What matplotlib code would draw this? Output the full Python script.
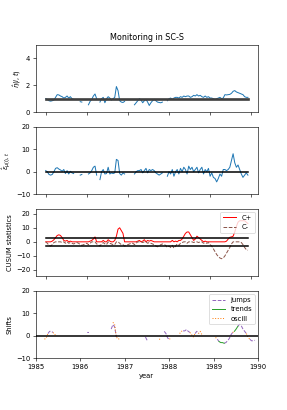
import numpy as np
import matplotlib
matplotlib.use("Agg")
import matplotlib.pyplot as plt

nan = np.nan

# weekly index (every second week)
woche = np.arange(0, 248, 2)
jahr = 1985.2 + woche / 52

eta = [
    1.0, 0.95, 0.85, 0.82, 0.85, 0.9, 1.1, 1.3, 1.28, 1.2,
    1.15, 1.05, 1.1, 1.2, 1.05, 1.15, 1.0, 0.95, nan, nan,
    nan, 0.78, 0.75, nan, nan, nan, 0.55, 0.8, 0.95, 1.2,
    1.35, 1.0, nan, 0.75, 1.0, 1.1, 0.7, 1.0, 1.15, 1.05,
    0.9, 1.0, 1.1, 1.9, 1.6, 0.85, 0.75, 0.72, 0.8, nan,
    nan, nan, nan, nan, 0.55, 0.7, 0.85, 1.0, 0.9, 0.7,
    0.85, 0.95, 0.75, 0.5, 0.7, 0.85, 0.95, 0.85, 0.75, 0.72,
    0.7, 0.75, nan, nan, 0.85, 1.0, 1.05, 0.95, 1.05, 1.1,
    1.1, 1.05, 1.15, 1.1, 1.2, 1.15, 1.2, 1.2, 1.1, 1.15,
    1.25, 1.2, 1.3, 1.2, 1.25, 1.15, 1.1, 1.2, 1.1, 1.15,
    1.05, 1.05, 1.0, 0.95, 1.0, 1.05, 1.1, 1.0, 1.05, 1.3,
    1.28, 1.3, 1.32, 1.4, 1.55, 1.6, 1.5, 1.45, 1.4, 1.35,
    1.3, 1.15, 1.1, 1.1,
]

eps = [
    0.5, 0, -1.2, -1.5, -1.2, 0, 1.5, 1.8, 1.2, 0.8,
    0.2, 1.0, -0.8, 0.5, -1.0, 0.2, -0.5, -0.8, nan, nan,
    nan, -1.5, -1.2, nan, nan, nan, -1.0, -0.5, 0.5, 2.0,
    2.5, -1.5, nan, -3.5, 0, 1.0, -1.0, -0.8, 2.0, -1.0,
    -0.5, -0.8, -0.5, 5.5, 5.0, -0.8, -1.5, -0.5, -1.0, nan,
    nan, nan, nan, nan, -1.0, 0, 0.5, 0.5, 1.0, -0.5,
    0.5, 1.5, -0.5, 1.0, 0.5, 1.0, 0.5, -0.5, -1.0, -1.5,
    -1.0, -0.5, nan, nan, -2.0, 0, -1.0, 1.0, -2.0, 0,
    1.0, -1.0, 1.5, 0, 2.0, 1.0, -1.0, 2.5, 1.0, 2.0,
    0, 1.0, 2.0, -0.5, 1.0, 2.0, -1.0, 1.0, 0, 1.5,
    -2.0, -0.5, -2.5, -3.0, -4.5, -3.0, -1.0, -2.0, 1.0, 1.0,
    0.5, 1.0, 2.0, 5.0, 8.0, 4.0, 2.0, 3.0, 1.0, -1.0,
    -2.5, -1.5, -0.5, -1.5,
]

c_plus = [
    0, 0, 0, 0, 0.5, 1.5, 3, 4.5, 5, 4.5,
    3, 1, 0.5, 1, 0, 0.5, 0, 0, 0, 0,
    0, 0, 0, 0, 0, 0, 0, 0.5, 1, 2,
    3.5, 0, 0, 0, 0, 1, 0, 0, 1.5, 0.5,
    0, 0, 1, 4, 9, 10, 8, 6, 0, 0,
    0, 0, 0, 0, 0, 0, 0.5, 1, 0, 0.5,
    1.5, 0, 1, 0.5, 1, 0.5, 0, 0, 0, 0,
    0, 0, 0, 0, 0, 0, 0, 1, 0, 0.5,
    0, 1, 1, 2, 4, 6, 7, 7, 5, 3,
    1, 2, 4, 3, 2, 1, 0, 0.5, 0, 0,
    0, 0, 0, 0, 0, 0, 0, 0, 0, 0,
    0.5, 2, 3.2, 3.5, 4, 7, 11, 14, 15, 15,
    15, 15, 14, 13,
]

c_minus = [
    0, -1, -2.5, -3, -2, -0.5, 0, 0, 0, 0,
    -0.5, 0, -1, 0, -1, -0.5, -1, -1.5, -1, -0.5,
    -1, -2, -2.5, -2, -1.5, -1, -2, -1, 0, 0,
    0, -1.5, -2, -3, -1.5, -0.5, -1.5, -2, 0, -1,
    -1.5, -2, -2, 0, 0, -1, -2, -2, -3, -2.5,
    -2, -1.5, -1, -1, -2, -1, 0, 0, 0, -0.5,
    0, 0, -1, -0.5, -1, -1.5, -2, -3, -3.5, -3,
    -2, -1.5, -2, -2.5, -4, -3, -4, -2.5, -4.5, -3,
    -1.5, -2.5, -1, -0.5, 0, 0, -1, 0, 0, 0,
    -0.5, 0, 0, -0.5, 0, 0, -1, -0.5, -1, -0.5,
    -2, -3, -5, -7, -9, -10.5, -11.5, -12, -11.5, -10,
    -8, -6, -4, -1.5, 0, 0, 0, 0, 0, -0.5,
    -2, -4, -5.5, -6,
]

# Shifts: nur dort wo erkannt (Position im Raster, Wert)
sprung_k = [2, 3, 4, 5, 25, 26, 39, 40, 41, 42, 59, 60, 70, 71, 72, 73,
            81, 82, 83, 84, 85, 88, 89, 90, 101, 102,
            105, 106, 107, 108, 109, 110, 113, 114, 115, 116, 117, 118,
            120, 121, 122, 123]
sprung_w = [1.0, 2.0, 2.0, 1.5, 1.5, 1.5, 3.0, 5.0, 4.0, -0.5, -0.5, -2.0,
            2.0, 1.0, -1.0, -1.5, 2.2, 2.2, 2.8, 2.0, 1.5, 1.0, 2.0, 1.0,
            -1.5, -2.5, -3.3, -3.0, -2.2, -1.2, 0.5, 1.5,
            4.2, 5.2, 4.5, 3.0, 2.0, 1.0, -1.5, -2.2, -2.2, -2.0]

trend_k = [102, 103, 104, 105, 111, 112, 113]
trend_w = [-2.5, -3.0, -3.0, -3.3, 2.0, 3.0, 4.2]

osz_k = [0, 1, 2, 5, 6, 7, 40, 41, 42, 43, 44, 67, 68, 73, 74, 79, 80, 81,
         85, 86, 87, 88, 90, 91, 92, 100, 101, 110, 111, 118, 119, 120]
osz_w = [-1.5, -1.0, 1.0, 1.5, 0.5, 0.5, 6.0, 5.0, -0.5, -1.5, -1.2,
         -1.5, -1.5, -1.5, -1.0, 1.0, 2.0, 2.2, 1.5, 0.5, -0.5, 1.0,
         1.0, 2.0, 0.5, -0.7, -1.5, 1.5, 2.0, 1.0, -0.7, -1.5]

schwelle = 3
eta_ref = 1


def voll(k, w):
    reihe = np.full(len(woche), np.nan)
    reihe[k] = w
    return reihe


sprung = voll(sprung_k, sprung_w)
trend = voll(trend_k, trend_w)
osz = voll(osz_k, osz_w)

plt.rcParams["font.size"] = 8.8
plt.rcParams["lines.linewidth"] = 1.3

fig, axs = plt.subplots(4, 1, figsize=(287 / 55, 410 / 55), dpi=55)
fig.subplots_adjust(left=0.124, right=0.899, top=0.891, bottom=0.126,
                    hspace=0.215)

ax = axs[0]
ax.plot(woche, eta, color="C0")
ax.plot([woche[0], woche[-1]], [eta_ref, eta_ref], color="0.25", linewidth=3.5)
ax.set_ylim(0, 5)
ax.set_yticks([0, 2, 4])
ax.set_ylabel(r"$\hat{\eta}(i,t)$")
ax.set_title("Monitoring in SC-S", fontsize=10.5)

ax = axs[1]
ax.plot(woche, eps, color="C0")
ax.plot([woche[0], woche[-1]], [0, 0], color="black", linewidth=2)
ax.set_ylim(-10, 20)
ax.set_ylabel(r"$\hat{\epsilon}_{\mu(i),t}$")

ax = axs[2]
ax.plot(woche, c_plus, color="red", label="C+")
ax.plot(woche, c_minus, color="tab:brown", linestyle="--", label="C-")
ax.plot([woche[0], woche[-1]], [schwelle, schwelle], color="black", linewidth=2)
ax.plot([woche[0], woche[-1]], [-schwelle, -schwelle], color="black", linewidth=2)
ax.set_ylim(-24.5, 23.5)
ax.set_ylabel("CUSUM statistics")
ax.legend(loc="upper right")

for ax in axs[:3]:
    ax.set_xticks([0, 50, 100, 150, 200, 250])
    ax.set_xticklabels([])

ax = axs[3]
ax.plot(jahr, sprung, color="tab:purple", linestyle="--", label="jumps")
ax.plot(jahr, trend, color="tab:green", label="trends")
ax.plot(jahr, osz, color="tab:orange", linestyle=":", label="oscill")
ax.axhline(0, color="black", linewidth=2)
ax.set_xlim(1985, 1990)
ax.set_ylim(-10, 20)
ax.set_xlabel("year")
ax.set_ylabel("Shifts")
ax.legend(loc="upper right")

fig.savefig("out.png", dpi=55)
